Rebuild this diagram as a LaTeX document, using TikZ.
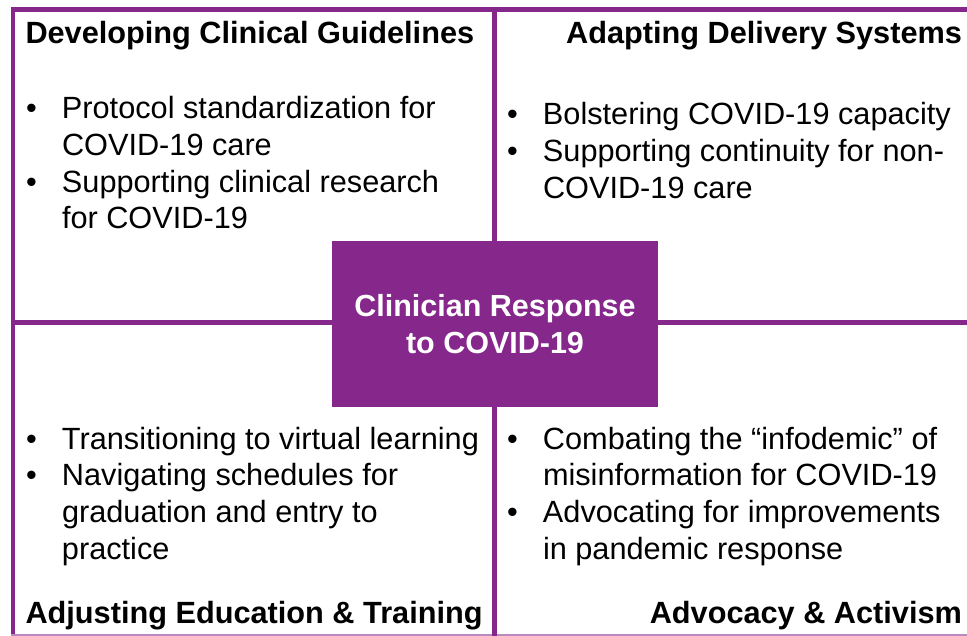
\documentclass[tikz,border=0pt]{standalone}
\usepackage{fontspec}
\setmainfont{Liberation Sans}
\definecolor{plum}{RGB}{134,39,140}
% a ragged list box whose baseline is its first line
\newcommand{\bulletbox}[1]{\parbox[t]{470pt}{\raggedright\parindent=0pt\parskip=0pt #1}}
% one bullet item with a hanging indent
\newcommand{\bitem}[1]{\par\hangindent=36pt\hangafter=1\noindent\makebox[36pt][l]{\textbullet}#1\par}
\begin{document}
\begin{tikzpicture}[x=1pt,y=-1pt,
  every node/.style={inner sep=0pt, outer sep=0pt},
  heading/.style={font=\fontsize{30.7}{36.8}\selectfont\bfseries},
  itemlist/.style={font=\fontsize{30.7}{36.8}\selectfont, anchor=base west},
  rule/.style={draw=plum, line width=4.5pt},
  edge rule/.style={draw=plum!55, line width=2.5pt},
  hubbox/.style={fill=plum, text=white, minimum width=326pt, minimum height=166pt,
    font=\fontsize{30.5}{37.5}\selectfont\bfseries, align=center},
]
\useasboundingbox (0,0) rectangle (967,636);

% frame and quadrant dividers
\coordinate (nw) at (11,9.5);
\coordinate (ne) at (967,9.5);
\coordinate (w-top) at (13,7.5);
\coordinate (sw) at (13,636);
\coordinate (n-mid) at (494.5,7.5);
\coordinate (s-mid) at (494.5,636);
\coordinate (w-mid) at (13,322.5);
\coordinate (e-mid) at (967,322.5);
\coordinate (bl) at (11,634.8);
\coordinate (br) at (967,634.8);

\draw[rule] (nw) -- (ne);
\draw[rule] (w-top) -- (sw);
\draw[edge rule] (bl) -- (br);
\draw[rule] (n-mid) -- (s-mid);
\draw[rule] (w-mid) -- (e-mid);

% central box
\node[hubbox] (hub) at (495,324) {Clinician Response\\to COVID-19};

% quadrant headings
\node[heading, anchor=base west] (h-tl) at (25.5,43.5) {Developing Clinical Guidelines};
\node[heading, anchor=base east] (h-tr) at (962,43.5) {Adapting Delivery Systems};
\node[heading, anchor=base west] (h-bl) at (25.5,623) {Adjusting Education \& Training};
\node[heading, anchor=base east] (h-br) at (962,623) {Advocacy \& Activism};

% quadrant bullet lists
\node[itemlist] (l-tl) at (26,118.5) {\bulletbox{%
  \bitem{Protocol standardization for\newline COVID-19 care}%
  \bitem{Supporting clinical research\newline for COVID-19}}};
\node[itemlist] (l-tr) at (507,125) {\bulletbox{%
  \bitem{Bolstering COVID-19 capacity}%
  \bitem{Supporting continuity for non-\newline COVID-19 care}}};
\node[itemlist] (l-bl) at (26,449) {\bulletbox{%
  \bitem{Transitioning to virtual learning}%
  \bitem{Navigating schedules for\newline graduation and entry to\newline practice}}};
\node[itemlist] (l-br) at (507,449) {\bulletbox{%
  \bitem{Combating the “infodemic” of\newline misinformation for COVID-19}%
  \bitem{Advocating for improvements\newline in pandemic response}}};
\end{tikzpicture}
\end{document}
